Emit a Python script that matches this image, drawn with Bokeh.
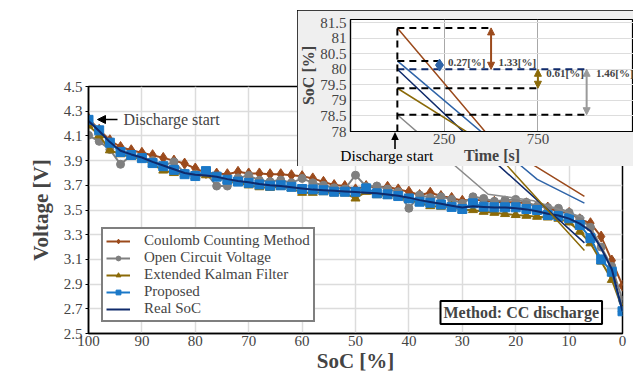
from bokeh.plotting import figure
from bokeh.models import (Range1d, FixedTicker, Legend, LegendItem,
                          Label, Arrow, NormalHead, ColumnDataSource, Div)
from bokeh.embed import file_html
from bokeh.resources import INLINE

# ---------------- data ----------------
soc = [100, 98, 96, 94, 92, 90, 88, 86, 84, 82,
       80, 78, 76, 74, 72, 70, 68, 66, 64, 62,
       60, 58, 56, 54, 52, 50, 48, 46, 44, 42,
       40, 38, 36, 34, 32, 30, 28, 26, 24, 22,
       20, 18, 16, 14, 12, 10, 8, 6, 4, 2, 0]

v_cc = [4.24, 4.15, 4.065, 4.01, 3.984, 3.963, 3.944, 3.922, 3.90, 3.876,
        3.836, 3.80, 3.795, 3.79, 3.809, 3.796, 3.796, 3.79, 3.79, 3.782,
        3.774, 3.756, 3.728, 3.702, 3.694, 3.667, 3.694, 3.683, 3.688, 3.667,
        3.648, 3.621, 3.640, 3.613, 3.598, 3.575, 3.586, 3.575, 3.567, 3.562,
        3.562, 3.554, 3.532, 3.52, 3.486, 3.476, 3.425, 3.393, 3.285, 3.091, 2.887]

v_ocv = [4.105, 4.056, 3.99, 3.87, 3.944, 3.925, 3.90, 3.86, 3.89, 3.80,
         3.79, 3.80, 3.694, 3.694, 3.76, 3.78, 3.74, 3.73, 3.742, 3.72,
         3.756, 3.72, 3.70, 3.68, 3.67, 3.782, 3.69, 3.694, 3.67, 3.648,
         3.514, 3.621, 3.60, 3.607, 3.586, 3.554, 3.607, 3.594, 3.57, 3.58,
         3.586, 3.562, 3.53, 3.52, 3.514, 3.48, 3.43, 3.36, 3.20, 3.043, 2.769]

v_ekf = [4.185, 4.105, 3.984, 3.952, 3.93, 3.915, 3.87, 3.82, 3.80, 3.79,
         3.775, 3.782, 3.76, 3.74, 3.72, 3.70, 3.685, 3.68, 3.688, 3.675,
         3.64, 3.64, 3.645, 3.635, 3.635, 3.594, 3.648, 3.621, 3.615, 3.607,
         3.585, 3.559, 3.532, 3.527, 3.527, 3.50, 3.50, 3.486, 3.478, 3.468,
         3.46, 3.454, 3.446, 3.44, 3.43, 3.40, 3.325, 3.231, 3.083, 2.935, 2.70]

v_prop = [4.23, 4.145, 4.045, 3.97, 3.945, 3.92, 3.88, 3.855, 3.825, 3.79,
          3.775, 3.815, 3.77, 3.745, 3.73, 3.72, 3.707, 3.697, 3.70, 3.688,
          3.67, 3.667, 3.66, 3.648, 3.648, 3.648, 3.675, 3.635, 3.627, 3.613,
          3.594, 3.567, 3.559, 3.545, 3.525, 3.508, 3.554, 3.527, 3.522, 3.522,
          3.522, 3.508, 3.50, 3.46, 3.452, 3.433, 3.379, 3.272, 3.10, 3.00, 2.68]

v_real = [4.22, 4.14, 4.05, 3.98, 3.95, 3.925, 3.89, 3.86, 3.83, 3.80,
          3.785, 3.78, 3.77, 3.75, 3.735, 3.725, 3.71, 3.70, 3.695, 3.685,
          3.675, 3.665, 3.66, 3.655, 3.65, 3.645, 3.64, 3.635, 3.625, 3.615,
          3.60, 3.58, 3.565, 3.55, 3.535, 3.52, 3.53, 3.525, 3.52, 3.52,
          3.515, 3.505, 3.49, 3.47, 3.455, 3.43, 3.39, 3.33, 3.19, 3.02, 2.68]

x_ticks = [0, 10, 20, 30, 40, 50, 60, 70, 80, 90, 100]
y_ticks = [2.5, 2.7, 2.9, 3.1, 3.3, 3.5, 3.7, 3.9, 4.1, 4.3, 4.5]
y_tick_labels = ["2.5", "2.7", "2.9", "3.1", "3.3", "3.5", "3.7", "3.9", "4.1", "4.3", "4.5"]

# inset: SoC [%] against time [s]
cc_t, cc_s = [0, 500, 1000], [81.33, 77.77, 75.9]
ocv_t, ocv_s = [0, 490, 730, 1000], [78.54, 75.97, 75.76, 75.2]
ekf_t, ekf_s = [0, 500, 1000], [79.39, 77.5, 74.15]
prop_t, prop_s = [0, 750, 1000], [80.27, 76.45, 75.68]
real_t, real_s = [0, 500, 1000], [80.0, 77.15, 74.4]

inset_x_ticks = [250, 750]
inset_y_ticks = [78, 78.5, 79, 79.5, 80, 80.5, 81, 81.5]
inset_y_labels = ["78", "78.5", "79", "79.5", "80", "80.5", "81", "81.5"]

ref_levels = [81.33, 80.27, 80.0, 79.39, 78.54]        # initial SoC of each method
ref_ends = [500, 225, 1000, 750, 1000]                 # extent of the guide lines [s]
err_labels = ["1.33[%]", "0.27[%]", "0.61[%]", "1.46[%]"]

# ---------------- styles ----------------
C_CC = "#9b4a1c"
C_OCV = "#7f7f7f"
C_EKF = "#8b6a08"
C_PROP = "#1a78c8"
C_PROP_IN = "#2f64a8"
C_REAL = "#0f2a6b"
FONT = "Liberation Serif"

# ---------------- layout geometry (page px) ----------------
W, H = 633, 375
ML, MR, MT, MB = 88, 11, 86, 41
IL, IT, IW, IH = 297, 10, 336, 156
IML, IMR, IMT, IMB = 51, 0, 9, 35
tx0, tx1 = -250, 1260
sy0, sy1 = 78, 81.6

fx0, fx1 = IL + IML, IL + IW - IMR
fy0, fy1 = IT + IMT, IT + IH - IMB
kx = (fx1 - fx0) / (tx1 - tx0)
ky = (fy1 - fy0) / (sy1 - sy0)
mx0, mx1, my0, my1 = ML, W - MR, MT, H - MB


def t_at(px):
    return tx0 + (px - fx0) / kx


def s_at(py):
    return sy1 - (py - fy0) / ky


# ---------------- main figure ----------------
p = figure(width=W, height=H, x_range=Range1d(100, 0), y_range=Range1d(2.5, 4.5),
           output_backend="svg", toolbar_location=None,
           min_border_left=ML, min_border_right=MR, min_border_top=MT, min_border_bottom=MB,
           background_fill_color="white", border_fill_color="white",
           outline_line_color="black", outline_line_width=1.5,
           styles={"position": "absolute", "left": "0px", "top": "0px"})
p.extra_x_ranges = {"t": Range1d(t_at(mx0), t_at(mx1))}
p.extra_y_ranges = {"s": Range1d(s_at(my1), s_at(my0))}

p.xaxis.ticker = FixedTicker(ticks=x_ticks)
p.yaxis.ticker = FixedTicker(ticks=y_ticks)
p.yaxis.major_label_overrides = {t: l for t, l in zip(y_ticks, y_tick_labels)}
for ax in (p.xaxis[0], p.yaxis[0]):
    ax.axis_label_text_font = FONT
    ax.axis_label_text_font_style = "bold"
    ax.axis_label_text_font_size = "21px"
    ax.major_label_text_font = FONT
    ax.major_label_text_font_size = "15px"
    ax.axis_line_width = 1.5
    ax.minor_tick_line_color = None
p.xaxis.axis_label = "SoC [%]"
p.xaxis.major_tick_out = 0
p.xaxis.major_tick_in = 0
p.xaxis.major_label_standoff = 2
p.xaxis.axis_label_standoff = 0
p.yaxis.axis_label = "Voltage [V]"
p.yaxis.major_tick_out = 3
p.yaxis.major_tick_in = 0
p.yaxis.major_label_standoff = 3
p.yaxis.axis_label_standoff = 8

p.xgrid.grid_line_color = "#dcdcdc"
p.ygrid.grid_line_color = "#dcdcdc"
p.xgrid.grid_line_width = 1.5
p.ygrid.grid_line_width = 1.5

src = ColumnDataSource(dict(soc=soc, cc=v_cc, ocv=v_ocv, ekf=v_ekf, prop=v_prop, real=v_real))

l_cc = p.line("soc", "cc", source=src, color=C_CC, line_width=2)
m_cc = p.scatter("soc", "cc", source=src, marker="diamond", size=11, color=C_CC)
l_ocv = p.line("soc", "ocv", source=src, color=C_OCV, line_width=2)
m_ocv = p.scatter("soc", "ocv", source=src, marker="circle", size=8, color=C_OCV)
l_ekf = p.line("soc", "ekf", source=src, color=C_EKF, line_width=2)
m_ekf = p.scatter("soc", "ekf", source=src, marker="triangle", size=9, color=C_EKF)
l_prop = p.line("soc", "prop", source=src, color=C_PROP, line_width=2)
m_prop = p.scatter("soc", "prop", source=src, marker="square", size=9, color=C_PROP)
l_real = p.line("soc", "real", source=src, color=C_REAL, line_width=2)

# inset curves as they spill over into the main plot area
for tt, ss, cc in ((ocv_t, ocv_s, "#8a8a8a"), (real_t, real_s, C_REAL), (ekf_t, ekf_s, C_EKF),
                   (prop_t, prop_s, C_PROP_IN), (cc_t, cc_s, C_CC)):
    p.line(tt, ss, x_range_name="t", y_range_name="s", color=cc, line_width=1.5)

legend = Legend(items=[
    LegendItem(label="Coulomb Counting Method", renderers=[l_cc, m_cc]),
    LegendItem(label="Open Circuit Voltage", renderers=[l_ocv, m_ocv]),
    LegendItem(label="Extended Kalman Filter", renderers=[l_ekf, m_ekf]),
    LegendItem(label="Proposed", renderers=[l_prop, m_prop]),
    LegendItem(label="Real SoC", renderers=[l_real]),
], location=(13, 11), border_line_color="black", border_line_width=2,
    background_fill_color="white", background_fill_alpha=1.0,
    label_text_font=FONT, label_text_font_size="15px",
    glyph_width=24, glyph_height=12, label_height=12, label_standoff=14,
    spacing=0, padding=3, margin=0)
p.add_layout(legend)

p.add_layout(Label(x=352, y=21, x_units="screen", y_units="screen",
                   text="Method: CC discharge", text_font=FONT, text_font_style="bold",
                   text_font_size="16px", text_baseline="middle", text_align="left",
                   border_line_color="black", border_line_width=2,
                   background_fill_color="white", padding=3))

p.add_layout(Arrow(end=NormalHead(size=8, fill_color="black", line_color="black"),
                   x_start=29, y_start=214, x_end=9, y_end=214,
                   start_units="screen", end_units="screen", line_width=1.5))
p.add_layout(Label(x=35, y=214, x_units="screen", y_units="screen", text="Discharge start",
                   text_font=FONT, text_font_size="16px", text_baseline="middle"))

# ---------------- inset figure ----------------
q = figure(width=IW, height=IH, x_range=Range1d(tx0, tx1), y_range=Range1d(sy0, sy1),
           output_backend="svg", toolbar_location=None,
           min_border_left=IML, min_border_right=IMR, min_border_top=IMT, min_border_bottom=IMB,
           background_fill_color="white", border_fill_color="#efefef",
           outline_line_color="black", outline_line_width=1.2,
           styles={"position": "absolute", "left": f"{IL}px", "top": f"{IT}px",
                   "outline": "2px solid black", "outline-offset": "-2px", "z-index": "5"})
q.xaxis.ticker = FixedTicker(ticks=inset_x_ticks)
q.yaxis.ticker = FixedTicker(ticks=inset_y_ticks)
q.yaxis.major_label_overrides = {t: l for t, l in zip(inset_y_ticks, inset_y_labels)}
for ax in (q.xaxis[0], q.yaxis[0]):
    ax.axis_label_text_font = FONT
    ax.axis_label_text_font_style = "bold"
    ax.axis_label_text_font_size = "16px"
    ax.major_label_text_font = FONT
    ax.major_label_text_font_size = "15px"
    ax.major_tick_out = 0
    ax.major_tick_in = 0
    ax.minor_tick_line_color = None
    ax.axis_line_width = 1.2
q.xaxis.axis_label = "Time [s]"
q.xaxis.major_label_standoff = 2
q.xaxis.axis_label_standoff = 0
q.yaxis.axis_label = "SoC [%]"
q.yaxis.major_label_standoff = 4
q.yaxis.axis_label_standoff = 0
q.xgrid.grid_line_color = "#a8a8a8"
q.ygrid.grid_line_color = "#dddddd"
q.ygrid.grid_line_width = 1.2

for tt, ss, cc in ((ocv_t, ocv_s, "#8a8a8a"), (real_t, real_s, C_REAL), (ekf_t, ekf_s, C_EKF),
                   (prop_t, prop_s, C_PROP_IN), (cc_t, cc_s, C_CC)):
    q.line(tt, ss, color=cc, line_width=1.5)

guide_colors = ["black", "black", C_REAL, "black", "black"]
q.segment(x0=[0] * len(ref_levels), y0=ref_levels, x1=ref_ends, y1=ref_levels,
          line_color=guide_colors, line_dash="7 5", line_width=2)
q.segment(x0=[0], y0=[sy0], x1=[0], y1=[ref_levels[0]], line_color="black",
          line_dash="7 5", line_width=2)

# error arrows
real0 = ref_levels[2]
for xa, lvl, col in ((500, ref_levels[0], C_CC), (750, ref_levels[3], C_EKF),
                     (1010, ref_levels[4], "#9a9a9a")):
    q.add_layout(Arrow(start=NormalHead(size=7, fill_color=col, line_color=col),
                       end=NormalHead(size=7, fill_color=col, line_color=col),
                       x_start=xa, y_start=real0, x_end=xa, y_end=lvl,
                       line_color=col, line_width=2))
q.scatter([225], [(ref_levels[1] + real0) / 2], marker="diamond", size=12, color=C_PROP_IN)

for xl, yl, txt in ((270, 80.22, err_labels[1]), (540, 80.24, err_labels[0]),
                    (795, 79.87, err_labels[2]), (1060, 79.87, err_labels[3])):
    q.add_layout(Label(x=xl, y=yl, text=txt, text_font=FONT, text_font_style="bold",
                       text_font_size="11px", text_baseline="middle", text_align="left"))

# "Discharge start" marker under the inset's time axis (outside its frame -> HTML)
x0_page = fx0 + (0 - tx0) * kx
d_arrow = Div(text=('<svg width="12" height="17" style="display:block">'
                    '<line x1="6" y1="17" x2="6" y2="6" stroke="black" stroke-width="1.6"/>'
                    '<polygon points="6,0 2.2,8 9.8,8" fill="black"/></svg>'),
              width=12, height=17, margin=0,
              styles={"position": "absolute", "left": f"{x0_page - 6:.1f}px",
                      "top": f"{fy1 + 1}px", "z-index": "6"})
d_text = Div(text=('<div style="font-family:\'Liberation Serif\';font-size:15.5px;'
                   'font-weight:normal;line-height:18px;text-align:center;'
                   'white-space:nowrap;color:black">Discharge start</div>'),
             width=110, height=18, margin=0,
             styles={"position": "absolute", "left": f"{x0_page - 55:.1f}px",
                     "top": f"{fy1 + 16}px", "z-index": "6", "font-weight": "normal"})

open("out.html", "w").write(file_html([p, q, d_arrow, d_text], INLINE))
